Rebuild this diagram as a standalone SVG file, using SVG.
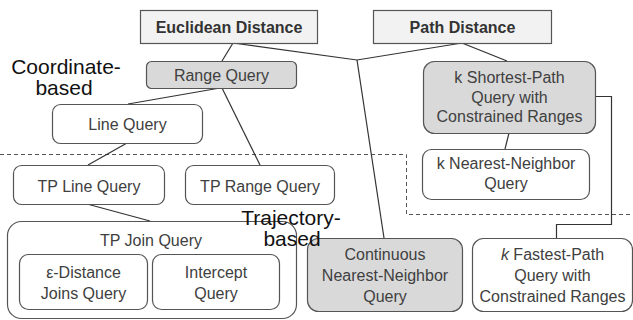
<svg xmlns="http://www.w3.org/2000/svg" width="633" height="320" viewBox="0 0 633 320">
<defs>
<style>
.bg{fill:#ffffff}
.sq{fill:#f2f2f2;stroke:#555;stroke-width:1.2}
.rw{fill:#ffffff;stroke:#555;stroke-width:1.2}
.rg{fill:#d9d9d9;stroke:#555;stroke-width:1.2}
.t{font-family:"Liberation Sans",Arial,sans-serif;font-size:16px;fill:#404040;text-anchor:middle}
.tb{font-family:"Liberation Sans",Arial,sans-serif;font-size:16px;font-weight:bold;fill:#333;text-anchor:middle}
.lab{font-family:"Liberation Sans",Arial,sans-serif;font-size:21px;fill:#111;text-anchor:middle}
.c{fill:none;stroke:#333;stroke-width:1.2}
.d{fill:none;stroke:#555;stroke-width:1;stroke-dasharray:4 3}
</style>
</defs>
<rect class="bg" x="0" y="0" width="633" height="320"/>
<g id="regions">
<polyline class="d" points="0,154.5 406.5,154.5 406.5,214.5 633,214.5"/>
</g>
<g id="connectors">
<line class="c" x1="233" y1="43" x2="222" y2="61"/>
<polyline class="c" points="233,43 357,60 462,43"/>
<line class="c" x1="357" y1="60" x2="384" y2="238"/>
<line class="c" x1="462" y1="43" x2="507" y2="61"/>
<line class="c" x1="220" y1="88" x2="128" y2="104"/>
<line class="c" x1="222" y1="88" x2="260" y2="165"/>
<line class="c" x1="127" y1="143" x2="88" y2="165"/>
<line class="c" x1="87" y1="204" x2="150" y2="221"/>
<line class="c" x1="509" y1="133" x2="505" y2="149"/>
<polyline class="c" points="595,96.5 611.5,96.5 611.5,224.5 556.5,224.5 556.5,238"/>
</g>
<g id="euclidean">
<rect class="sq" x="140.5" y="10.5" width="177" height="33"/>
<text class="tb" x="229" y="32.5">Euclidean Distance</text>
</g>
<g id="path">
<rect class="sq" x="373.5" y="10.5" width="178" height="33"/>
<text class="tb" x="462.5" y="32.5">Path Distance</text>
</g>
<g id="range">
<rect class="rg" x="146.5" y="61.5" width="150" height="27" rx="5"/>
<text class="t" x="221.5" y="80.5">Range Query</text>
</g>
<g id="line">
<rect class="rw" x="52.5" y="104.5" width="150" height="39" rx="8"/>
<text class="t" x="127.5" y="129.5">Line Query</text>
</g>
<g id="kshortest">
<rect class="rg" x="423.5" y="61.5" width="172" height="72" rx="11"/>
<text class="t" x="509.5" y="83">k Shortest-Path</text>
<text class="t" x="509.5" y="102.5">Query with</text>
<text class="t" x="509.5" y="122">Constrained Ranges</text>
</g>
<g id="knn">
<rect class="rw" x="422.5" y="149.5" width="167" height="50" rx="9"/>
<text class="t" x="506" y="169">k Nearest-Neighbor</text>
<text class="t" x="506" y="188.5">Query</text>
</g>
<g id="tpline">
<rect class="rw" x="13.5" y="165.5" width="151" height="39" rx="8"/>
<text class="t" x="89" y="192">TP Line Query</text>
</g>
<g id="tprange">
<rect class="rw" x="185.5" y="165.5" width="149" height="39" rx="8"/>
<text class="t" x="260" y="192">TP Range Query</text>
</g>
<g id="tpjoin">
<rect class="rw" x="7.5" y="221.5" width="289" height="97" rx="14"/>
<text class="t" x="151" y="246">TP Join Query</text>
</g>
<g id="edistance">
<rect class="rw" x="19.5" y="254.5" width="128" height="55" rx="9"/>
<text class="t" x="83.5" y="278">ε-Distance</text>
<text class="t" x="83.5" y="299">Joins Query</text>
</g>
<g id="intercept">
<rect class="rw" x="152.5" y="254.5" width="127" height="55" rx="9"/>
<text class="t" x="216" y="278">Intercept</text>
<text class="t" x="216" y="299">Query</text>
</g>
<g id="cnn">
<rect class="rg" x="307.5" y="238.5" width="155" height="73" rx="11"/>
<text class="t" x="385" y="260">Continuous</text>
<text class="t" x="385" y="281">Nearest-Neighbor</text>
<text class="t" x="385" y="302">Query</text>
</g>
<g id="kfastest">
<rect class="rw" x="472.5" y="238.5" width="160" height="73" rx="11"/>
<text class="t" x="552.5" y="260"><tspan font-style="italic">k</tspan> Fastest-Path</text>
<text class="t" x="552.5" y="281">Query with</text>
<text class="t" x="552.5" y="302">Constrained Ranges</text>
</g>
<g id="labels">
<text class="lab" x="66" y="73.5">Coordinate-</text>
<text class="lab" x="64" y="94.5">based</text>
<text class="lab" x="291" y="225">Trajectory-</text>
<text class="lab" x="292" y="246">based</text>
</g>
</svg>
